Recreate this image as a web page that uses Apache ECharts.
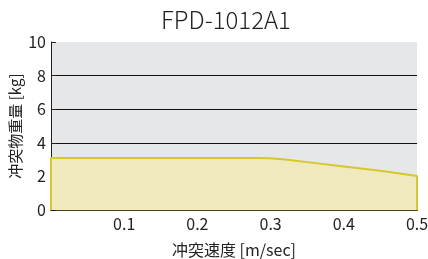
<!DOCTYPE html>
<html><head><meta charset="utf-8">
<script src="https://cdn.jsdelivr.net/npm/echarts@6/dist/echarts.min.js"></script>
<style>html,body{margin:0;padding:0;background:#fff}#c{width:428px;height:259px}</style>
</head><body><div id="c"></div>
<script>
const titleText = 'FPD-1012A1';
const xName = '冲突速度 [m/sec]';
const yName = '冲突物重量 [kg]';
const speeds = [0, 0, 0.28, 0.3, 0.32, 0.35, 0.4, 0.45, 0.5, 0.5];
const weights = [0, 3.1, 3.1, 3.08, 3.0, 2.85, 2.59, 2.33, 2.03, 0];
const font = '"Noto Sans CJK JP", "Noto Sans", sans-serif';
const chart = echarts.init(document.getElementById('c'));
chart.setOption({
  animation: false,
  title: { text: titleText, left: 221, top: 3, textAlign: 'center',
    textStyle: { fontFamily: font, fontSize: 24, fontWeight: 300, color: '#222' } },
  grid: { left: 51, right: 11, top: 42, bottom: 49, show: true, backgroundColor: '#e6e7e9', borderWidth: 0,
    containLabel: false, outerBoundsMode: 'none' },
  xAxis: { type: 'value', min: 0, max: 0.5, interval: 0.1,
    name: xName, nameLocation: 'middle', nameGap: 32, nameMoveOverlap: false,
    nameTextStyle: { fontFamily: font, fontSize: 16, color: '#222' },
    axisLine: { lineStyle: { color: '#4a4512', width: 2 } },
    axisTick: { inside: true, length: 5, lineStyle: { color: '#222' } },
    axisLabel: { fontFamily: font, fontSize: 16, color: '#222', margin: 6,
      formatter: v => v === 0 ? '' : String(v) },
    splitLine: { show: false } },
  yAxis: { type: 'value', min: 0, max: 10, interval: 2,
    name: yName, nameLocation: 'middle', nameGap: 28, nameRotate: 90, nameMoveOverlap: false,
    nameTextStyle: { fontFamily: font, fontSize: 15, color: '#222' },
    axisLine: { show: true, lineStyle: { color: '#222', width: 1 } },
    axisTick: { show: true, inside: true, length: 5, lineStyle: { color: '#222' } },
    axisLabel: { fontFamily: font, fontSize: 16, color: '#222', margin: 5 },
    splitLine: { show: true, lineStyle: { color: ['#111', '#111', '#111', '#111', '#111', 'rgba(0,0,0,0)'], width: 1 } } },
  series: [{
    type: 'line',
    data: speeds.map((s, i) => [s, weights[i]]),
    showSymbol: false, symbol: 'none',
    lineStyle: { color: '#d6c72a', width: 2 },
    areaStyle: { color: '#efe9bd', opacity: 1, origin: 'start' },
    z: 1
  }]
});
</script></body></html>
